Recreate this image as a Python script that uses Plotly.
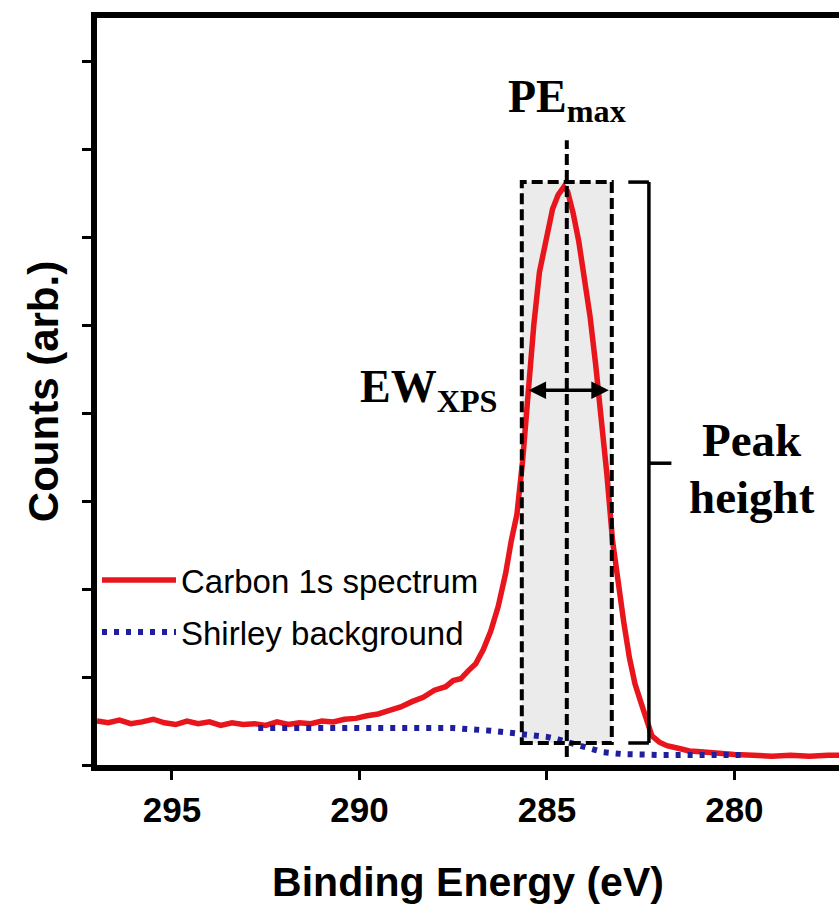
import plotly.graph_objects as go

# ---- data ----
spec_energy = [297.0, 296.7, 296.4, 296.1, 295.8, 295.5, 295.2, 294.9, 294.6, 294.3,
               294.0, 293.7, 293.4, 293.1, 292.8, 292.5, 292.2, 291.9, 291.6, 291.3,
               291.0, 290.7, 290.4, 290.1, 289.8, 289.5, 289.2, 288.9, 288.6, 288.3,
               288.0, 287.7, 287.5, 287.3, 287.1, 286.9, 286.7, 286.5, 286.3, 286.1,
               285.95, 285.8, 285.65, 285.5, 285.35, 285.2, 285.0, 284.85, 284.7, 284.55,
               284.45, 284.3, 284.15, 284.0, 283.85, 283.7, 283.55, 283.4, 283.25, 283.1,
               282.95, 282.8, 282.65, 282.5, 282.35, 282.2, 282.0, 281.8, 281.5, 281.2,
               280.9, 280.5, 280.0, 279.5, 279.0, 278.5, 278.0, 277.5, 277.2]
spec_counts = [0.50, 0.48, 0.51, 0.47, 0.49, 0.52, 0.48, 0.46, 0.50, 0.47,
               0.49, 0.45, 0.48, 0.46, 0.47, 0.45, 0.49, 0.46, 0.48, 0.47,
               0.50, 0.49, 0.52, 0.53, 0.56, 0.58, 0.62, 0.66, 0.72, 0.77,
               0.85, 0.89, 0.96, 0.98, 1.07, 1.15, 1.31, 1.52, 1.80, 2.18,
               2.55, 2.85, 3.45, 4.30, 5.00, 5.60, 6.05, 6.32, 6.48, 6.57,
               6.52, 6.27, 5.95, 5.55, 5.10, 4.55, 3.95, 3.30, 2.55, 2.05,
               1.62, 1.22, 0.92, 0.72, 0.50, 0.33, 0.26, 0.22, 0.19, 0.16,
               0.15, 0.13, 0.12, 0.11, 0.10, 0.11, 0.10, 0.11, 0.11]

shirley_energy = [292.7, 291.5, 290.0, 288.5, 287.5, 286.5, 286.0, 285.5, 285.0, 284.7,
                  284.4, 284.1, 283.8, 283.5, 283.0, 282.5, 282.0, 281.0, 279.8]
shirley_counts = [0.42, 0.42, 0.42, 0.42, 0.42, 0.39, 0.37, 0.345, 0.32, 0.29,
                  0.25, 0.21, 0.17, 0.145, 0.125, 0.115, 0.114, 0.114, 0.114]

x_ticks = [295, 290, 285, 280]
y_ticks = [0, 1, 2, 3, 4, 5, 6, 7, 8]

# annotation geometry (data units)
pe_max = 284.47
ew_left, ew_right, ew_level = 285.53, 283.35, 4.26
box_left, box_right, box_bottom, box_top = 285.67, 283.27, 0.25, 6.625
bracket_x, bracket_mid = 282.28, 3.43

RED = "#e8161c"
BLUE = "#1f1f9e"
SERIF = "Liberation Serif, Times New Roman, serif"
SANS = "Liberation Sans, Arial, sans-serif"

fig = go.Figure()
fig.add_trace(go.Scatter(x=spec_energy, y=spec_counts, mode="lines",
                         name="Carbon 1s spectrum", legendgroup="a",
                         line=dict(color=RED, width=5.5)))
fig.add_trace(go.Scatter(x=shirley_energy, y=shirley_counts, mode="lines",
                         name="Shirley background", legendgroup="b",
                         line=dict(color=BLUE, width=6, dash="5px,7px")))

dash_box = dict(color="black", width=4, dash="11px,5px")
shapes = [
    dict(type="rect", xref="x", yref="y", x0=box_left, x1=box_right, y0=box_bottom, y1=box_top,
         fillcolor="#ebebeb", line=dict(width=0), layer="below"),
    dict(type="rect", xref="x", yref="y", x0=box_left, x1=box_right, y0=box_bottom, y1=box_top,
         line=dash_box, layer="above"),
    dict(type="line", xref="x", yref="y", x0=pe_max, x1=pe_max, y0=0.09, y1=7.1,
         line=dash_box, layer="above"),
    # bracket for peak height
    dict(type="line", xref="x", yref="y", x0=bracket_x, x1=bracket_x, y0=box_bottom, y1=box_top,
         line=dict(color="black", width=3.5)),
    dict(type="line", xref="x", yref="y", x0=bracket_x + 0.55, x1=bracket_x, y0=box_top, y1=box_top,
         line=dict(color="black", width=3.5)),
    dict(type="line", xref="x", yref="y", x0=bracket_x + 0.55, x1=bracket_x, y0=box_bottom, y1=box_bottom,
         line=dict(color="black", width=3.5)),
    dict(type="line", xref="x", yref="y", x0=bracket_x, x1=bracket_x - 0.6, y0=bracket_mid, y1=bracket_mid,
         line=dict(color="black", width=3.5)),
]

annotations = [
    # double-headed arrow for EW
    dict(x=ew_right, y=ew_level, ax=ew_left, ay=ew_level, xref="x", yref="y", axref="x", ayref="y",
         showarrow=True, arrowhead=2, startarrowhead=2, arrowside="end+start",
         arrowwidth=3.5, arrowsize=1, startarrowsize=1, arrowcolor="black", text=""),
    dict(x=286.25, y=ew_level, xref="x", yref="y", xanchor="right", yanchor="middle",
         text="<b>EW<sub>XPS</sub></b>", showarrow=False,
         font=dict(family=SERIF, size=46, color="black")),
    dict(x=pe_max, y=7.56, xref="x", yref="y", xanchor="center", yanchor="middle",
         text="<b>PE<sub>max</sub></b>", showarrow=False,
         font=dict(family=SERIF, size=46, color="black")),
    dict(x=279.53, y=3.69, xref="x", yref="y", xanchor="center", yanchor="middle",
         text="<b>Peak</b>", showarrow=False,
         font=dict(family=SERIF, size=47, color="black")),
    dict(x=279.53, y=3.05, xref="x", yref="y", xanchor="center", yanchor="middle",
         text="<b>height</b>", showarrow=False,
         font=dict(family=SERIF, size=47, color="black")),
]

fig.update_layout(
    width=839, height=916,
    margin=dict(l=97, r=0, t=18, b=151),
    paper_bgcolor="white", plot_bgcolor="white",
    shapes=shapes, annotations=annotations,
    showlegend=True,
    legend=dict(x=0.0, xanchor="left", y=0.285, yanchor="top",
                bgcolor="rgba(0,0,0,0)", itemwidth=74,
                font=dict(family=SANS, size=33, color="black"),
                tracegroupgap=6),
    xaxis=dict(range=[297, 277.21], tickvals=x_ticks, ticktext=[str(v) for v in x_ticks],
               showline=True, linecolor="black", linewidth=6, mirror=True,
               ticks="outside", ticklen=9, tickwidth=3, tickcolor="black",
               showgrid=False, zeroline=False,
               tickfont=dict(family=SANS, size=35, color="black", weight="bold"),
               title=dict(text="<b>Binding Energy (eV)</b>", standoff=41,
                          font=dict(family=SANS, size=41, color="black"))),
    yaxis=dict(range=[0, 8.49], tickvals=y_ticks, showticklabels=False,
               showline=True, linecolor="black", linewidth=6,
               ticks="outside", ticklen=9, tickwidth=3, tickcolor="black",
               showgrid=False, zeroline=False,
               title=dict(text="<b>Counts (arb.)</b>", standoff=12,
                          font=dict(family=SANS, size=42, color="black"))),
)

fig.write_html("out.html", config={"displayModeBar": False},
               post_script="document.body.style.margin='0px';document.body.style.overflow='hidden';")
